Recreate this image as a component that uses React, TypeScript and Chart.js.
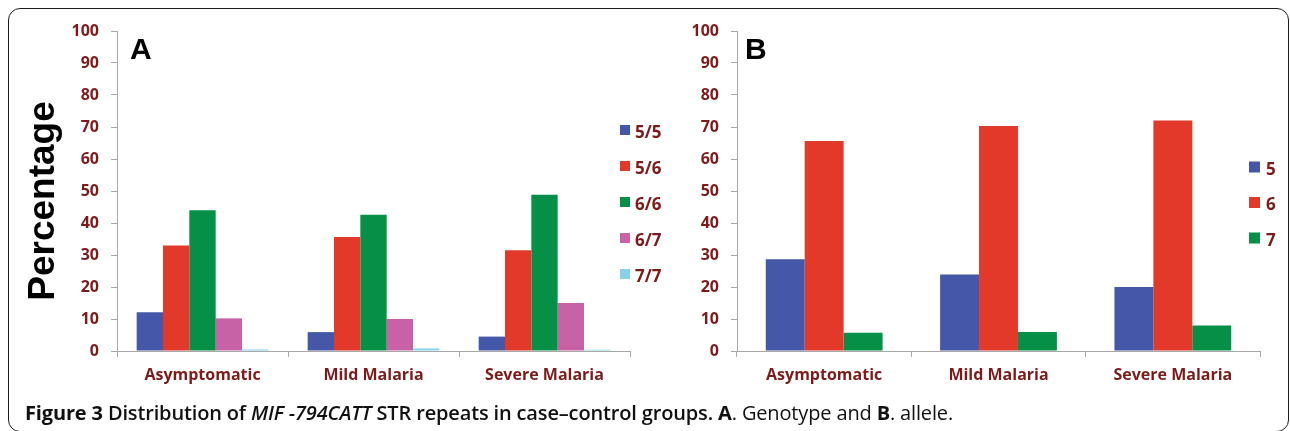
import React, { useEffect, useRef } from "react";
import { Chart, registerables } from "chart.js";

Chart.register(...registerables);

// ---------- data ----------
const categories = ["Asymptomatic", "Mild Malaria", "Severe Malaria"];

const genotypeLabels = ["5/5", "5/6", "6/6", "6/7", "7/7"];
const genotype55 = [12.1, 5.9, 4.5];
const genotype56 = [33.0, 35.6, 31.5];
const genotype66 = [44.0, 42.6, 48.8];
const genotype67 = [10.2, 10.0, 15.0];
const genotype77 = [0.5, 0.8, 0.4];

const alleleLabels = ["5", "6", "7"];
const allele5 = [28.7, 23.9, 20.0];
const allele6 = [65.6, 70.3, 72.0];
const allele7 = [5.7, 5.9, 8.0];

const yMin = 0;
const yMax = 100;
const yStep = 10;

// ---------- styles ----------
const BLUE = "#4457a8";
const RED = "#e2392b";
const GREEN = "#058f47";
const PINK = "#c862a6";
const CYAN = "#86d2ea";
const LABEL_COLOR = "#7d1a1a";
const AXIS_COLOR = "#a8a8a8";
const FONT = "'Open Sans', 'Noto Sans', sans-serif";
const ARIAL = "'Liberation Sans', Arial, sans-serif";

const overlayPlugin = {
  id: "overlay",
  afterDraw(chart: any, _args: any, opts: any) {
    const { ctx } = chart;
    ctx.save();
    chart.data.datasets.forEach((ds: any, i: number) => {
      const cy = opts.legendY + i * opts.legendStep;
      ctx.fillStyle = ds.backgroundColor;
      ctx.fillRect(opts.legendX, cy - opts.swatch / 2, opts.swatch, opts.swatch);
      ctx.fillStyle = LABEL_COLOR;
      ctx.font = `bold 17px ${FONT}`;
      ctx.textBaseline = "middle";
      ctx.textAlign = "left";
      ctx.fillText(ds.label, opts.legendX + opts.swatch + opts.gap, cy + 3);
    });
    ctx.fillStyle = "#000";
    ctx.font = `bold 30px ${ARIAL}`;
    ctx.textBaseline = "alphabetic";
    ctx.textAlign = "left";
    ctx.fillText(opts.letter, opts.letterX, 59);
    if (opts.yTitle) {
      ctx.translate(54, 201);
      ctx.rotate(-Math.PI / 2);
      ctx.textAlign = "center";
      ctx.font = `bold 37px ${ARIAL}`;
      ctx.fillText(opts.yTitle, 0, 0);
    }
    ctx.restore();
  },
};

function makeConfig(datasets: any[], o: any): any {
  return {
    type: "bar",
    data: { labels: categories, datasets },
    plugins: [overlayPlugin],
    options: {
      responsive: false,
      animation: false,
      events: [],
      layout: { padding: { top: 31, right: o.padRight, left: 0, bottom: 0 } },
      datasets: {
        bar: { categoryPercentage: o.catPct, barPercentage: 1, borderWidth: 0 },
      },
      plugins: {
        legend: { display: false },
        tooltip: { enabled: false },
        overlay: o.overlay,
      },
      scales: {
        x: {
          afterFit: (s: any) => {
            s.height = 80;
          },
          grid: {
            offset: true,
            drawOnChartArea: false,
            drawTicks: true,
            tickLength: 6,
            color: AXIS_COLOR,
          },
          border: { display: true, color: AXIS_COLOR, width: 1 },
          ticks: {
            color: LABEL_COLOR,
            font: { family: FONT, size: 16, weight: "bold" },
            padding: 9,
            maxRotation: 0,
          },
        },
        y: {
          min: yMin,
          max: yMax,
          afterFit: (s: any) => {
            s.width = o.yWidth;
          },
          grid: {
            drawOnChartArea: false,
            drawTicks: true,
            tickLength: 6,
            color: AXIS_COLOR,
          },
          border: { display: true, color: AXIS_COLOR, width: 1 },
          ticks: {
            stepSize: yStep,
            color: LABEL_COLOR,
            font: { family: FONT, size: 16, weight: "bold" },
            padding: 12,
          },
        },
      },
    },
  };
}

function BarPanel({ config, width, height, left }: any) {
  const ref = useRef<HTMLCanvasElement>(null);
  useEffect(() => {
    if (!ref.current) return;
    const chart = new Chart(ref.current, config);
    return () => chart.destroy();
  }, []);
  return (
    <canvas
      ref={ref}
      width={width}
      height={height}
      style={{ position: "absolute", left, top: 0, width, height }}
    />
  );
}

export default function App() {
  const configA = makeConfig(
    [
      { label: genotypeLabels[0], data: genotype55, backgroundColor: BLUE },
      { label: genotypeLabels[1], data: genotype56, backgroundColor: RED },
      { label: genotypeLabels[2], data: genotype66, backgroundColor: GREEN },
      { label: genotypeLabels[3], data: genotype67, backgroundColor: PINK },
      { label: genotypeLabels[4], data: genotype77, backgroundColor: CYAN },
    ],
    {
      padRight: 40,
      yWidth: 117,
      catPct: 0.77,
      overlay: {
        legendX: 620,
        legendY: 130,
        legendStep: 36,
        swatch: 10,
        gap: 5,
        letter: "A",
        letterX: 130,
        yTitle: "Percentage",
      },
    }
  );
  const configB = makeConfig(
    [
      { label: alleleLabels[0], data: allele5, backgroundColor: BLUE },
      { label: alleleLabels[1], data: allele6, backgroundColor: RED },
      { label: alleleLabels[2], data: allele7, backgroundColor: GREEN },
    ],
    {
      padRight: 30,
      yWidth: 97,
      catPct: 0.67,
      overlay: {
        legendX: 609,
        legendY: 167,
        legendStep: 35.5,
        swatch: 11,
        gap: 6,
        letter: "B",
        letterX: 105,
        yTitle: null,
      },
    }
  );

  return (
    <div
      style={{
        position: "absolute",
        left: 0,
        top: 0,
        width: 1290,
        height: 431,
        overflow: "hidden",
        background: "#fff",
      }}
    >
      <div
        style={{
          position: "absolute",
          left: 8,
          top: 8,
          width: 1281,
          height: 424,
          boxSizing: "border-box",
          border: "1.5px solid #1c1c1c",
          borderRadius: 12,
        }}
      />
      <BarPanel config={configA} width={670} height={431} left={0} />
      <BarPanel config={configB} width={650} height={431} left={640} />
      <div
        style={{
          position: "absolute",
          left: 25,
          top: 402,
          fontFamily: FONT,
          fontSize: 20,
          lineHeight: "22px",
          color: "#111",
          whiteSpace: "nowrap",
          letterSpacing: "-0.15px",
        }}
      >
        <span style={{ fontWeight: 700 }}>Figure 3 </span>
        <span style={{ fontWeight: 600 }}>
          Distribution of <i>MIF -794CATT</i> STR repeats in case–control groups.{" "}
        </span>
        <span style={{ fontWeight: 700 }}>A</span>
        <span style={{ fontWeight: 400 }}>. Genotype and </span>
        <span style={{ fontWeight: 700 }}>B</span>
        <span style={{ fontWeight: 400 }}>. allele.</span>
      </div>
    </div>
  );
}
